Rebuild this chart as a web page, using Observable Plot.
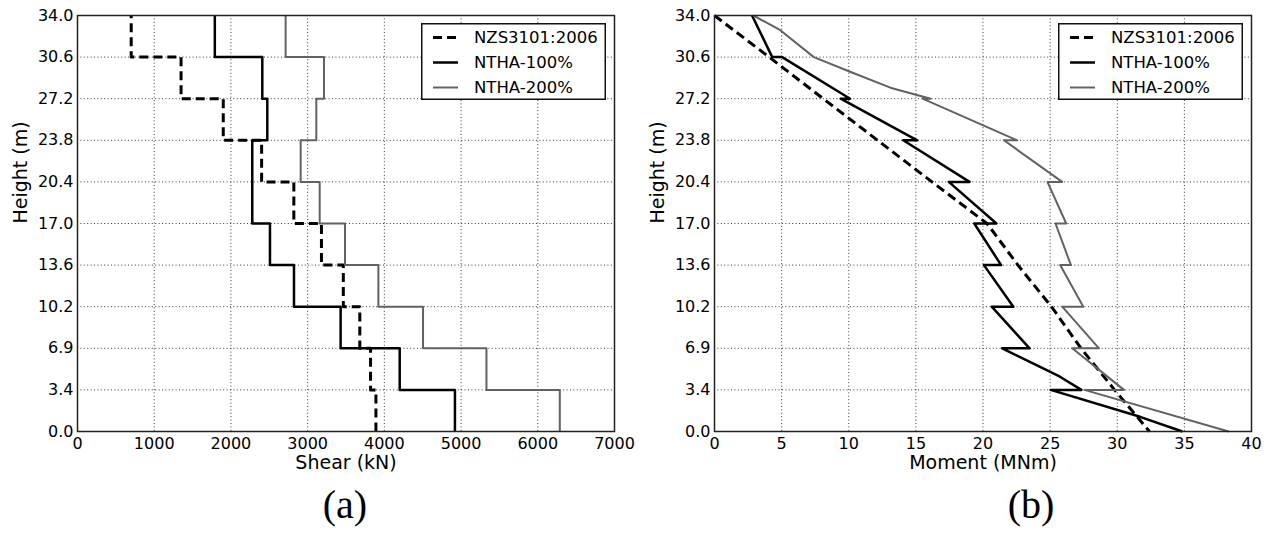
<!DOCTYPE html>
<html><head><meta charset="utf-8">
<script src="https://cdn.jsdelivr.net/npm/d3@7"></script>
<script src="https://cdn.jsdelivr.net/npm/@observablehq/plot@0.6"></script>
<style>
body{margin:0;background:#fff;}
#page{position:relative;width:1271px;height:533px;overflow:hidden;font-family:"DejaVu Sans",sans-serif;background:#fff;}
.panel{position:absolute;top:0;}
.cap{position:absolute;font-family:"Liberation Serif","Times New Roman",serif;font-size:40px;line-height:1;color:#000;transform:translateX(-50%);white-space:nowrap;}
</style></head><body>
<div id="page">
  <div id="pa" class="panel" style="left:0px"></div>
  <div id="pb" class="panel" style="left:635px"></div>
  <div class="cap" style="left:345px;top:485px">(a)</div>
  <div class="cap" style="left:1031px;top:485px">(b)</div>
</div>
<script>
// ---- data ----
const floors = [0, 3.4, 6.8, 10.2, 13.6, 17.0, 20.4, 23.8, 27.2, 30.6, 34.0];
const floorLabels = ["0.0", "3.4", "6.9", "10.2", "13.6", "17.0", "20.4", "23.8", "27.2", "30.6", "34.0"];
const seriesNames = ["NZS3101:2006", "NTHA-100%", "NTHA-200%"];
const shearTicks = [0, 1000, 2000, 3000, 4000, 5000, 6000, 7000];
const momentTicks = [0, 5, 10, 15, 20, 25, 30, 35, 40];

// storey shear (kN), storey 1 (0-3.4 m) to storey 10 (30.6-34.0 m)
const shearNZS = [3890, 3820, 3680, 3465, 3180, 2820, 2400, 1900, 1350, 700];
const shear100 = [4920, 4200, 3430, 2822, 2509, 2278, 2278, 2474, 2409, 1790];
const shear200 = [6287, 5331, 4504, 3922, 3487, 3157, 2909, 3113, 3213, 2713];

// moment (MNm) profiles: heights (m) and moments
const momNZSH = [34.0, 30.6, 27.2, 23.8, 20.4, 17.0, 13.6, 10.2, 6.8, 3.4, 0.0];
const momNZS  = [0.0, 4.07, 8.1, 12.15, 16.2, 20.3, 22.6, 25.1, 27.3, 29.8, 32.4];
const mom100H = [34.0, 30.6, 30.6, 27.2, 27.2, 23.8, 23.8, 20.4, 20.4, 17.0, 17.0, 13.6, 13.6, 10.2, 10.2, 6.8, 6.8, 4.5, 3.4, 3.4, 1.2, 0.0];
const mom100  = [2.8, 4.3, 5.04, 10.1, 9.4, 15.1, 14.06, 19.0, 17.45, 21.0, 19.35, 21.35, 20.07, 22.26, 20.65, 23.47, 21.43, 25.7, 27.33, 25.04, 31.7, 34.85];
const mom200H = [34.0, 32.8, 30.6, 29.4, 28.1, 27.2, 27.2, 23.8, 23.8, 20.4, 20.4, 17.0, 17.0, 13.6, 13.6, 10.2, 10.2, 6.8, 6.8, 3.4, 3.4, 0.0];
const mom200  = [2.9, 4.9, 7.4, 10.1, 13.1, 16.1, 15.5, 22.55, 21.56, 25.9, 24.8, 26.2, 25.4, 26.55, 25.75, 27.47, 25.9, 28.64, 26.65, 30.5, 27.55, 38.3];

// ---- styles ----
const seriesStyles = [
  {stroke: "#000", strokeWidth: 3, strokeDasharray: "9,5"},
  {stroke: "#000", strokeWidth: 2.5},
  {stroke: "#626262", strokeWidth: 2}
];
const labelOf = new Map(floors.map((f, i) => [f, floorLabels[i]]));
const stepPts = vals => vals.flatMap((v, i) => [{x: v, y: floors[i]}, {x: v, y: floors[i + 1]}]);
const profPts = (hs, ms) => hs.map((h, i) => ({x: ms[i], y: h}));

const H = 480, MT = 15, MB = 49;
function panel({width, marginLeft, marginRight, xDomain, xTicks, xLabel, datasets}) {
  const gridStyle = {stroke: "#222", strokeWidth: 1, strokeDasharray: "1,2.4", strokeOpacity: 0.9};
  return Plot.plot({
    width, height: H, marginLeft, marginRight, marginTop: MT, marginBottom: MB,
    style: {fontFamily: "DejaVu Sans", fontSize: "16px", color: "#000", background: "white", overflow: "visible"},
    x: {domain: xDomain},
    y: {domain: [0, 34]},
    marks: [
      Plot.ruleX(xTicks, gridStyle),
      Plot.ruleY(floors, gridStyle),
      ...datasets.map((d, i) => Plot.line(d, {x: "x", y: "y", ...seriesStyles[i], strokeLinejoin: "round", strokeLinecap: "butt"})),
      Plot.frame({stroke: "#222", strokeWidth: 1.5}),
      Plot.axisX({ticks: xTicks, tickSize: 0, tickPadding: 6, fontSize: 16, tickFormat: d => String(d), label: null}),
      Plot.axisY({ticks: floors, tickSize: 0, tickPadding: 4, fontSize: 16, tickFormat: d => labelOf.get(d), label: null}),
      Plot.text([xLabel], {text: d => d, frameAnchor: "bottom", lineAnchor: "top", dy: 24, fontSize: 19}),
      Plot.text(["Height (m)"], {text: d => d, frameAnchor: "left", dx: -57, rotate: -90, fontSize: 19})
    ]
  });
}

const A = {width: 635, marginLeft: 77, marginRight: 21};
const B = {width: 636, marginLeft: 79, marginRight: 20};
document.getElementById("pa").appendChild(panel({
  ...A, xDomain: [0, 7000], xTicks: shearTicks, xLabel: "Shear (kN)",
  datasets: [stepPts(shearNZS), stepPts(shear100), stepPts(shear200)]
}));
document.getElementById("pb").appendChild(panel({
  ...B, xDomain: [0, 40], xTicks: momentTicks, xLabel: "Moment (MNm)",
  datasets: [profPts(momNZSH, momNZS), profPts(mom100H, mom100), profPts(mom200H, mom200)]
}));

// ---- legends (overlaid inside each frame, top-right) ----
const page = d3.select("#page");
function legend(panelLeft, cfg) {
  const w = 185, h = 77;
  const left = panelLeft + cfg.width - cfg.marginRight - 8 - w;
  const top = MT + 8;
  const svg = page.append("svg").style("position", "absolute").style("left", left + "px").style("top", top + "px")
    .attr("width", w + 2).attr("height", h + 2);
  svg.append("rect").attr("x", 0.75).attr("y", 0.75).attr("width", w - 1.5).attr("height", h - 1.5)
    .attr("fill", "white").attr("stroke", "#111").attr("stroke-width", 1.5);
  seriesNames.forEach((name, i) => {
    const cy = 14.5 + 25 * i;
    const s = seriesStyles[i];
    svg.append("line").attr("x1", 12).attr("x2", 37).attr("y1", cy).attr("y2", cy)
      .attr("stroke", s.stroke).attr("stroke-width", s.strokeWidth).attr("stroke-dasharray", s.strokeDasharray || null);
    svg.append("text").attr("x", 53).attr("y", cy).attr("dy", "0.36em")
      .attr("font-family", "DejaVu Sans").attr("font-size", 16.5).attr("fill", "#000").text(name);
  });
}
legend(0, A);
legend(635, B);
</script>
</body></html>
